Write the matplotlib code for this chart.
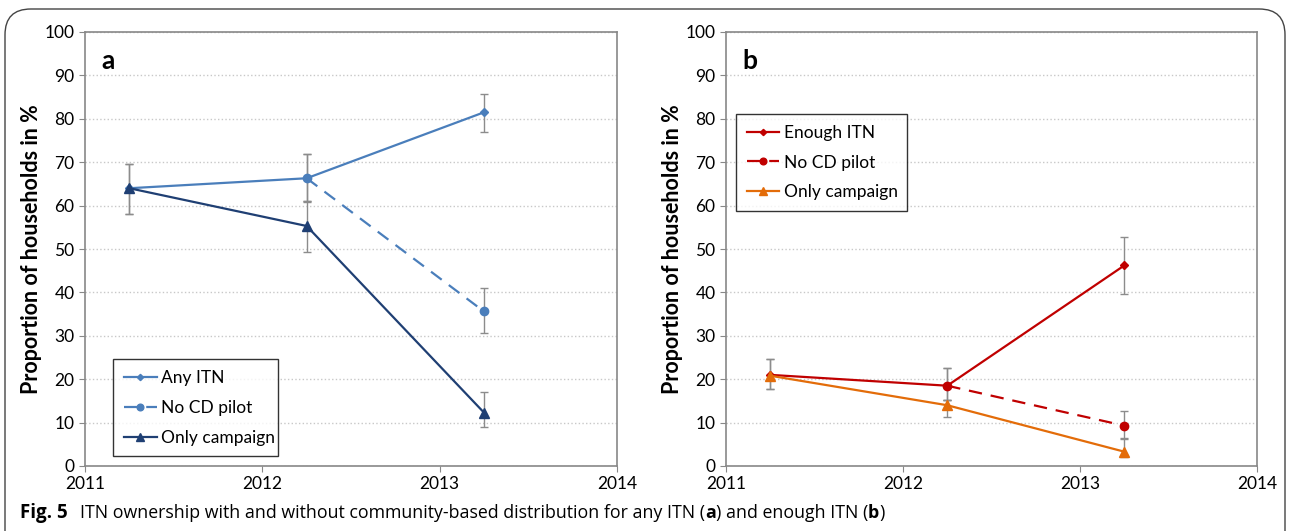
import numpy as np
import matplotlib.pyplot as plt
from matplotlib.patches import FancyBboxPatch

plt.rcParams['font.family'] = ['Lato', 'DejaVu Sans']

years = [2011.25, 2012.25, 2013.25]
years_pilot = [2012.25, 2013.25]

# panel a - any ITN
any_itn = [64.0, 66.3, 81.5]
any_lo = [58.0, 61.0, 76.9]
any_hi = [69.5, 72.0, 85.8]
a_pilot = [66.3, 35.6]
a_pilot_lo = [61.0, 30.6]
a_pilot_hi = [72.0, 41.0]
a_camp = [64.0, 55.3, 12.3]
a_camp_lo = [58.0, 49.4, 9.0]
a_camp_hi = [69.5, 60.8, 17.1]

# panel b - enough ITN
enough = [21.0, 18.5, 46.2]
enough_lo = [17.7, 15.2, 39.7]
enough_hi = [24.7, 22.6, 52.8]
b_pilot = [18.5, 9.3]
b_pilot_lo = [15.2, 6.3]
b_pilot_hi = [22.6, 12.7]
b_camp = [20.8, 14.0, 3.3]
b_camp_lo = [17.7, 11.3, 2.0]
b_camp_hi = [24.7, 15.2, 6.5]

xticks = [2011, 2012, 2013, 2014]
yticks = np.arange(0, 101, 10)

fig = plt.figure(figsize=(12.9, 5.31), dpi=100)
W, H = 1290, 531

border = FancyBboxPatch((5 / W, -0.05), 1280 / W, (531 - 9) / H + 0.05,
                        boxstyle="round,pad=0,rounding_size=0.02",
                        transform=fig.transFigure, fill=False,
                        ec='#444444', lw=1.0, mutation_aspect=W / H)
fig.patches.append(border)


def err(vals, lo, hi):
    v = np.array(vals)
    return [v - np.array(lo), np.array(hi) - v]


def panel(ax, letter, series, leg_box):
    for x, y, lo, hi, col, ls, mk, ms, lab in series:
        ax.errorbar(x, y, yerr=err(y, lo, hi), fmt='none', ecolor='#8c8c8c',
                    elinewidth=1, capsize=3, capthick=1, zorder=2)
        ax.plot(x, y, color=col, ls=ls, lw=1.6, marker=mk, ms=ms,
                label=lab, zorder=3, dashes=(6, 4) if ls == '--' else (None, None))
    ax.set_xlim(2011, 2014)
    ax.set_ylim(0, 100)
    ax.set_xticks(xticks)
    ax.set_yticks(yticks)
    ax.tick_params(labelsize=12.5, length=4, color='#888888', direction='out')
    ax.grid(axis='y', ls=':', color='#c8c8c8', lw=1)
    ax.set_axisbelow(True)
    for s in ax.spines.values():
        s.set_color('#888888')
        s.set_linewidth(1.2)
    ax.set_ylabel('Proportion of households in %', fontsize=15.5,
                  fontweight='bold', labelpad=2)
    ax.text(0.03, 0.96, letter, transform=ax.transAxes, fontsize=19,
            fontweight='bold', va='top')
    leg = ax.legend(loc='lower left', bbox_to_anchor=leg_box, mode='expand',
                    fontsize=12.5, frameon=True, fancybox=False,
                    edgecolor='black', borderaxespad=0, handlelength=1.9,
                    handletextpad=0.25, labelspacing=0.8, borderpad=0.6,
                    markerscale=0.8)
    leg.get_frame().set_linewidth(1.0)


ax1 = fig.add_axes([85 / W, 1 - 466 / H, 532 / W, 434 / H])
panel(ax1, 'a', [
    (years, any_itn, any_lo, any_hi, '#4a7ebb', '-', 'D', 4, 'Any ITN'),
    (years_pilot, a_pilot, a_pilot_lo, a_pilot_hi, '#4a7ebb', '--', 'o', 6, 'No CD pilot'),
    (years, a_camp, a_camp_lo, a_camp_hi, '#1f3f73', '-', '^', 7, 'Only campaign'),
], (0.053, 0.023, 0.309, 0.228))

ax2 = fig.add_axes([726 / W, 1 - 466 / H, 531 / W, 434 / H])
panel(ax2, 'b', [
    (years, enough, enough_lo, enough_hi, '#c00000', '-', 'D', 4, 'Enough ITN'),
    (years_pilot, b_pilot, b_pilot_lo, b_pilot_hi, '#c00000', '--', 'o', 6, 'No CD pilot'),
    (years, b_camp, b_camp_lo, b_camp_hi, '#e36c09', '-', '^', 7, 'Only campaign'),
], (0.019, 0.588, 0.322, 0.233))

cap_font = ['Open Sans', 'DejaVu Sans']
cap_y = 1 - 513 / H
fig.text(20 / W, cap_y, 'Fig. 5', fontsize=13.5, fontweight='bold',
         family=cap_font, va='center')
pieces = [('ITN ownership with and without community-based distribution for any ITN (', 'normal'),
          ('a', 'bold'), (') and enough ITN (', 'normal'), ('b', 'bold'), (')', 'normal')]
x = 80 / W
for txt, wt in pieces:
    t = fig.text(x, cap_y, txt, fontsize=12.8, fontweight=wt, family=cap_font, va='center')
    fig.canvas.draw()
    x = t.get_window_extent().x1 / W

fig.savefig('out.png', dpi=100)
